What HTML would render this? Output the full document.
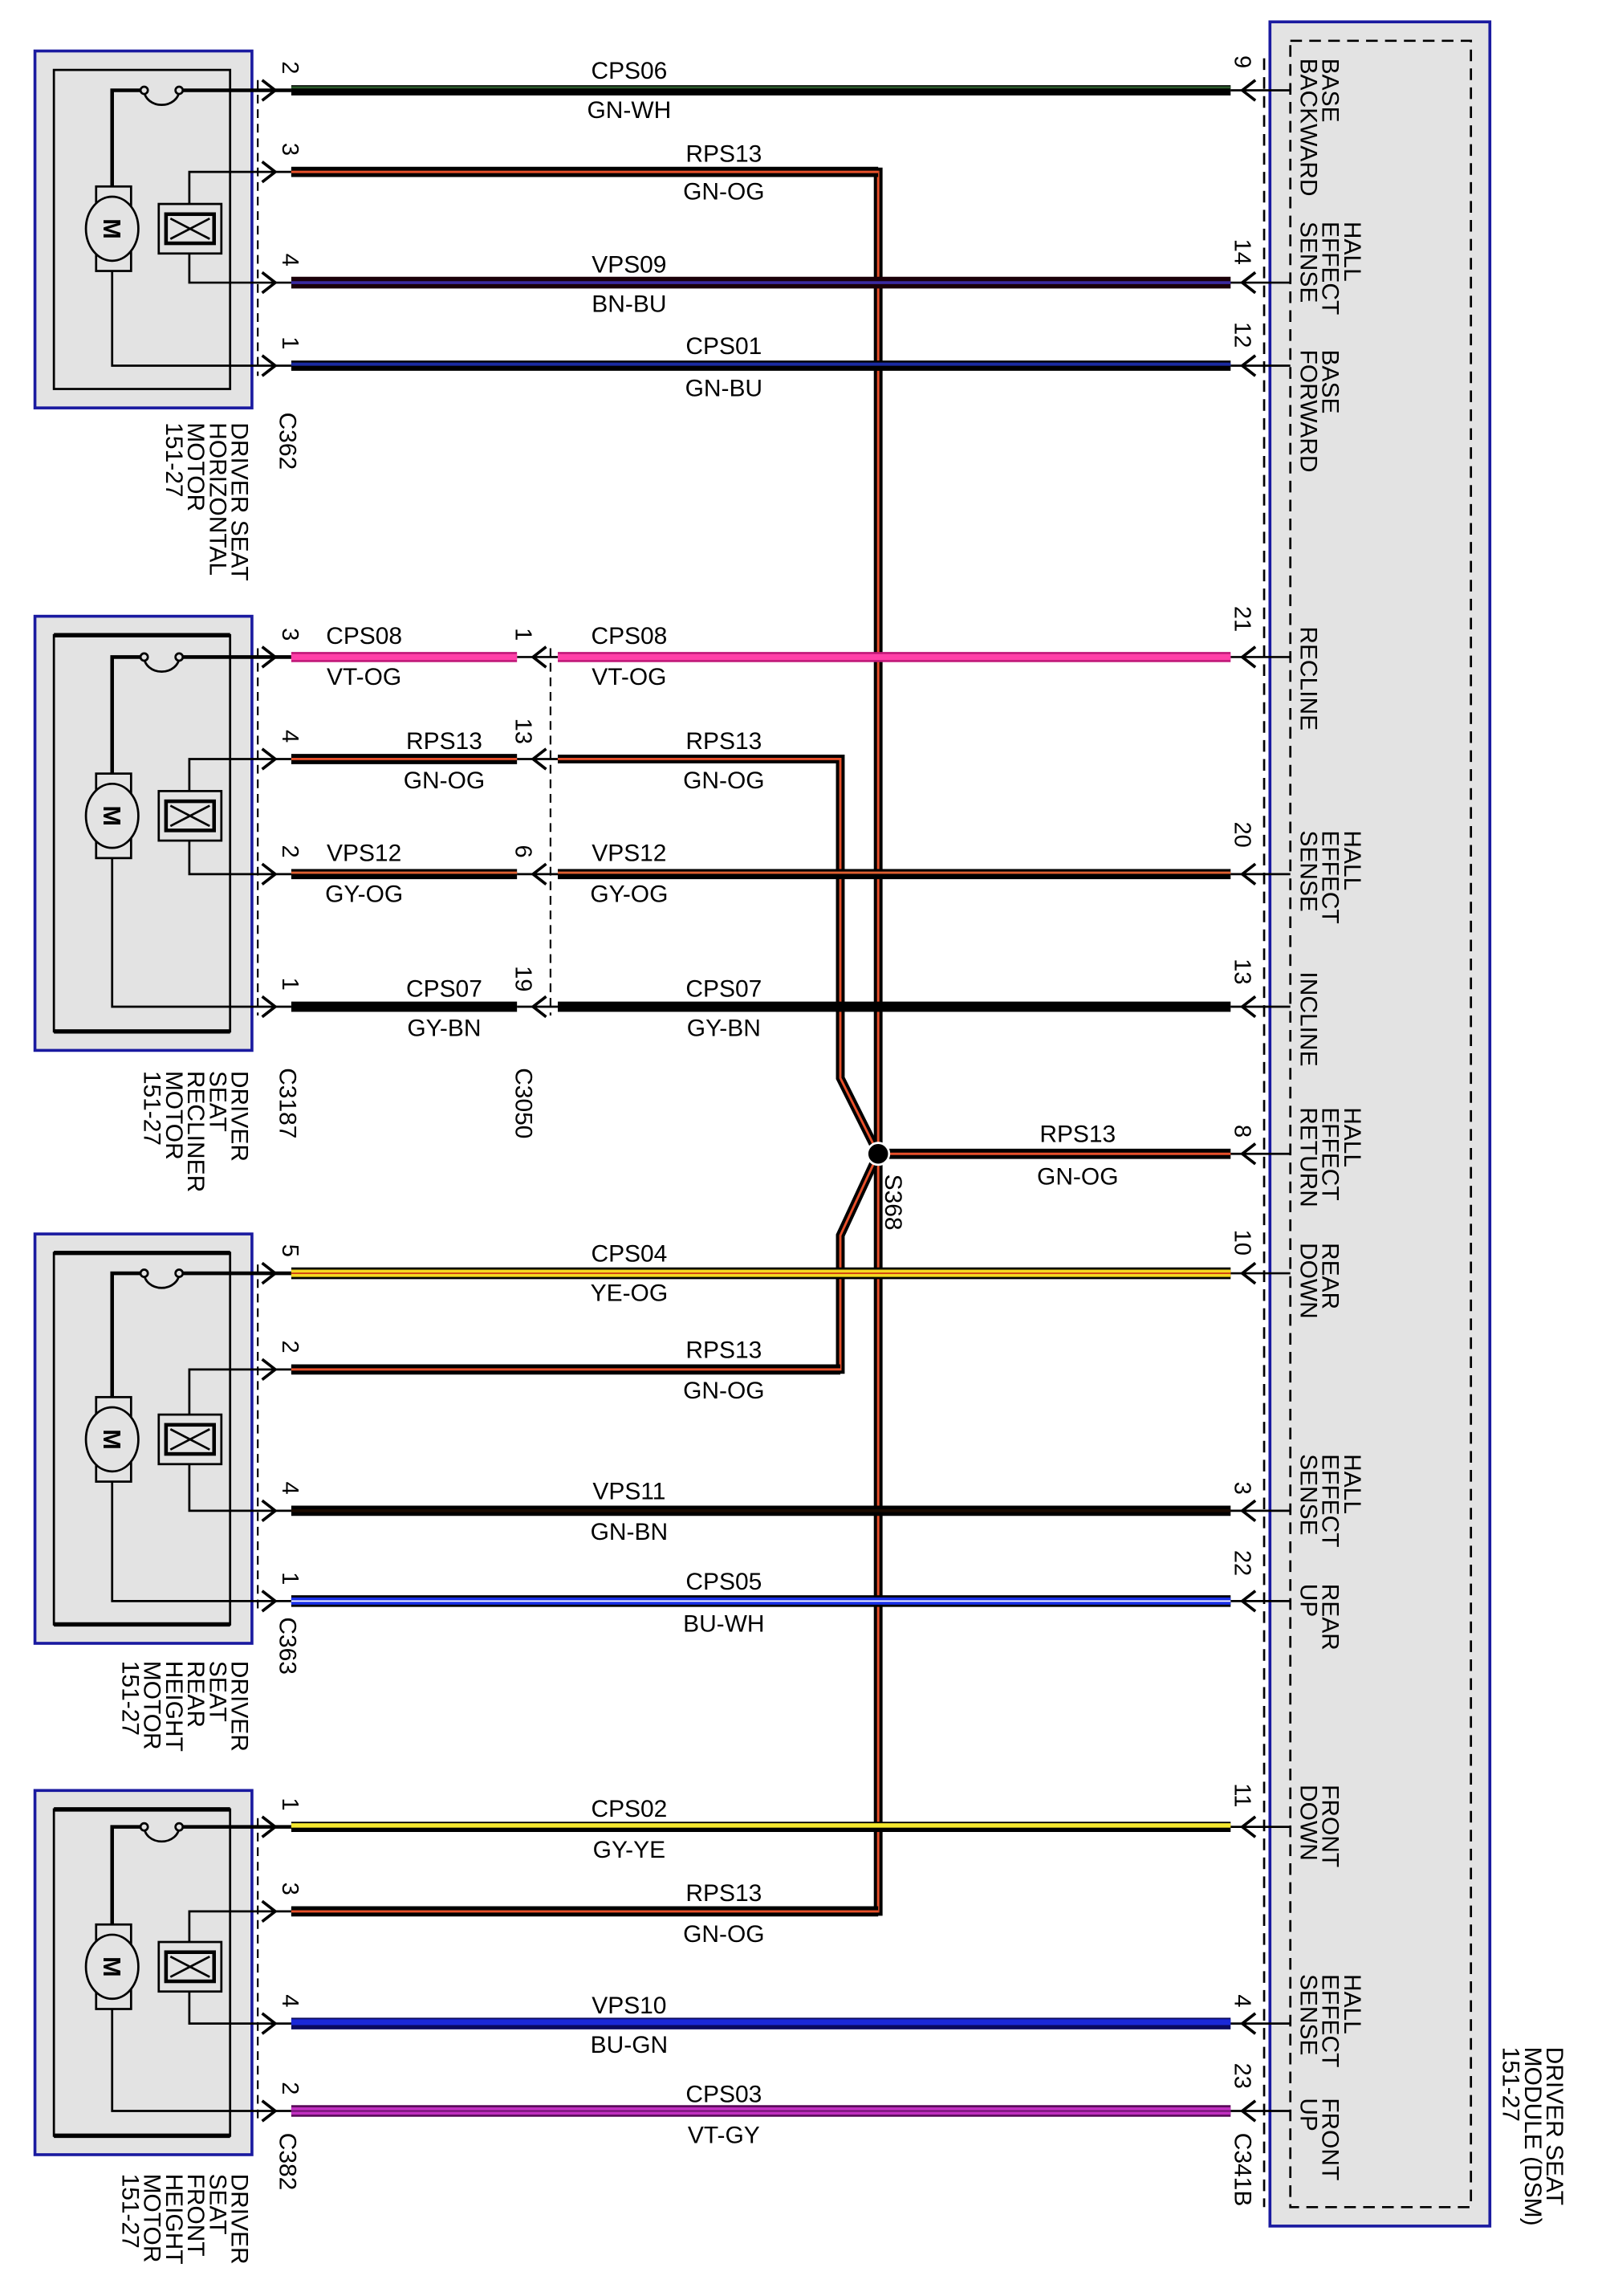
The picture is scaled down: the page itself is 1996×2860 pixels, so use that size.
<!DOCTYPE html>
<html><head><meta charset="utf-8"><style>
html,body{margin:0;padding:0;background:#fff}
svg{display:block}
text{font-family:"Liberation Sans",Arial,sans-serif;fill:#000}
.wl{font-size:16.5px;text-anchor:middle}
.pn{font-size:16px}
.ml{font-size:16.5px}
</style></head><body>
<svg width="1996" height="2860" viewBox="0 0 1100 1576" preserveAspectRatio="none" xmlns="http://www.w3.org/2000/svg">
<rect width="1100" height="1576" fill="#fff"/>
<rect x="872" y="15" width="151" height="1513" fill="#e3e3e3" stroke="#1a1aa0" stroke-width="2"/>
<rect x="886" y="28" width="124" height="1487" fill="none" stroke="#000" stroke-width="1.5" stroke-dasharray="8,5"/>
<line x1="868" y1="40" x2="868" y2="1515" stroke="#000" stroke-width="1.5" stroke-dasharray="8,5"/>
<g fill="#e3e3e3" stroke="#1a1aa0" stroke-width="2">
<rect x="24" y="35" width="149" height="245"/>
<rect x="24" y="423" width="149" height="298"/>
<rect x="24" y="847" width="149" height="281"/>
<rect x="24" y="1229" width="149" height="250"/>
</g>
<g fill="none" stroke="#000" stroke-width="1.5">
<rect x="37" y="48" width="121" height="219"/>
<rect x="37" y="436" width="121" height="272"/>
<rect x="37" y="860" width="121" height="255"/>
<rect x="37" y="1242" width="121" height="224"/>
</g>
<g stroke="#000" stroke-width="3">
<line x1="37" y1="436" x2="158" y2="436"/><line x1="37" y1="708" x2="158" y2="708"/>
<line x1="37" y1="860" x2="158" y2="860"/><line x1="37" y1="1115" x2="158" y2="1115"/>
<line x1="37" y1="1242" x2="158" y2="1242"/><line x1="37" y1="1466" x2="158" y2="1466"/>
</g>
<g stroke="#000" stroke-width="1.2" stroke-dasharray="6,4">
<line x1="177" y1="55" x2="177" y2="258"/>
<line x1="177" y1="445" x2="177" y2="697"/>
<line x1="177" y1="868" x2="177" y2="1105"/>
<line x1="177" y1="1248" x2="177" y2="1455"/>
<line x1="378" y1="445" x2="378" y2="697"/>
</g>
<g fill="none" stroke="#000" stroke-width="1.5">
<path d="M77,128 V62 H99 M123,62 H200" stroke-width="2.5"/>
<path d="M99,62 A12,10 0 0 0 123,62"/>
<circle cx="99" cy="62" r="2.5" fill="#e3e3e3"/><circle cx="123" cy="62" r="2.5" fill="#e3e3e3"/>
<rect x="66" y="128" width="24" height="58"/>
<ellipse cx="77" cy="157" rx="18" ry="22" fill="#e3e3e3"/>
<path d="M77,186 V251 H200"/>
<path d="M200,118 H130 V140 M130,174 V194 H200"/>
<rect x="109" y="140" width="43" height="34"/><rect x="114" y="147" width="33" height="20" stroke-width="2.5"/>
<path d="M117,150 L144,164 M117,164 L144,150"/>
<path d="M77,531 V451 H99 M123,451 H200" stroke-width="2.5"/>
<path d="M99,451 A12,10 0 0 0 123,451"/>
<circle cx="99" cy="451" r="2.5" fill="#e3e3e3"/><circle cx="123" cy="451" r="2.5" fill="#e3e3e3"/>
<rect x="66" y="531" width="24" height="58"/>
<ellipse cx="77" cy="560" rx="18" ry="22" fill="#e3e3e3"/>
<path d="M77,589 V691 H200"/>
<path d="M200,521 H130 V543 M130,577 V600 H200"/>
<rect x="109" y="543" width="43" height="34"/><rect x="114" y="550" width="33" height="20" stroke-width="2.5"/>
<path d="M117,553 L144,567 M117,567 L144,553"/>
<path d="M77,959 V874 H99 M123,874 H200" stroke-width="2.5"/>
<path d="M99,874 A12,10 0 0 0 123,874"/>
<circle cx="99" cy="874" r="2.5" fill="#e3e3e3"/><circle cx="123" cy="874" r="2.5" fill="#e3e3e3"/>
<rect x="66" y="959" width="24" height="58"/>
<ellipse cx="77" cy="988" rx="18" ry="22" fill="#e3e3e3"/>
<path d="M77,1017 V1099 H200"/>
<path d="M200,940 H130 V971 M130,1005 V1037 H200"/>
<rect x="109" y="971" width="43" height="34"/><rect x="114" y="978" width="33" height="20" stroke-width="2.5"/>
<path d="M117,981 L144,995 M117,995 L144,981"/>
<path d="M77,1321 V1254 H99 M123,1254 H200" stroke-width="2.5"/>
<path d="M99,1254 A12,10 0 0 0 123,1254"/>
<circle cx="99" cy="1254" r="2.5" fill="#e3e3e3"/><circle cx="123" cy="1254" r="2.5" fill="#e3e3e3"/>
<rect x="66" y="1321" width="24" height="58"/>
<ellipse cx="77" cy="1350" rx="18" ry="22" fill="#e3e3e3"/>
<path d="M77,1379 V1449 H200"/>
<path d="M200,1312 H130 V1333 M130,1367 V1389 H200"/>
<rect x="109" y="1333" width="43" height="34"/><rect x="114" y="1340" width="33" height="20" stroke-width="2.5"/>
<path d="M117,1343 L144,1357 M117,1357 L144,1343"/>
</g>
<g font-size="17" font-weight="bold">
<text transform="translate(71,157) rotate(90)" text-anchor="middle">M</text>
<text transform="translate(71,560) rotate(90)" text-anchor="middle">M</text>
<text transform="translate(71,988) rotate(90)" text-anchor="middle">M</text>
<text transform="translate(71,1350) rotate(90)" text-anchor="middle">M</text>
</g>
<g fill="none" stroke="#000" stroke-width="2">
<path d="M180,55 L189,62 L180,69 M180,111 L189,118 L180,125 M180,187 L189,194 L180,201 M180,244 L189,251 L180,258"/>
<path d="M180,444 L189,451 L180,458 M180,514 L189,521 L180,528 M180,593 L189,600 L180,607 M180,684 L189,691 L180,698"/>
<path d="M180,867 L189,874 L180,881 M180,933 L189,940 L180,947 M180,1030 L189,1037 L180,1044 M180,1092 L189,1099 L180,1106"/>
<path d="M180,1247 L189,1254 L180,1261 M180,1305 L189,1312 L180,1319 M180,1382 L189,1389 L180,1396 M180,1442 L189,1449 L180,1456"/>
<path d="M355,451 H383 M355,521 H383 M355,600 H383 M355,691 H383" stroke-width="1.5"/>
<path d="M375,444 L366,451 L375,458 M375,514 L366,521 L375,528 M375,593 L366,600 L375,607 M375,684 L366,691 L375,698"/>
<path d="M845,62 H886 M845,194 H886 M845,251 H886 M845,451 H886 M845,600 H886 M845,691 H886 M845,792 H886 M845,874 H886 M845,1037 H886 M845,1099 H886 M845,1254 H886 M845,1389 H886 M845,1449 H886" stroke-width="1.5"/>
<path d="M862,55 L853,62 L862,69 M862,187 L853,194 L862,201 M862,244 L853,251 L862,258 M862,444 L853,451 L862,458 M862,593 L853,600 L862,607 M862,684 L853,691 L862,698 M862,785 L853,792 L862,799 M862,867 L853,874 L862,881 M862,1030 L853,1037 L862,1044 M862,1092 L853,1099 L862,1106 M862,1247 L853,1254 L862,1261 M862,1382 L853,1389 L862,1396 M862,1442 L853,1449 L862,1456"/>
</g>
<g fill="none" stroke-linejoin="miter">
<polyline points="200,118 603,118 603,1312 200,1312" stroke="#000" stroke-width="6"/>
<polyline points="200,118 603,118 603,1312 200,1312" stroke="#e8502a" stroke-width="1.6"/>
<polyline points="383,521 577,521 577,740 603,792 577,848 577,940 200,940" stroke="#000" stroke-width="6"/>
<polyline points="383,521 577,521 577,740 603,792 577,848 577,940 200,940" stroke="#e8502a" stroke-width="1.6"/>
<line x1="200" y1="521" x2="355" y2="521" stroke="#000" stroke-width="7"/>
<line x1="200" y1="521" x2="355" y2="521" stroke="#e8502a" stroke-width="1.6"/>
<line x1="603" y1="792" x2="845" y2="792" stroke="#000" stroke-width="7"/>
<line x1="603" y1="792" x2="845" y2="792" stroke="#e8502a" stroke-width="1.6"/>
<line x1="200" y1="118" x2="603" y2="118" stroke="#000" stroke-width="7"/>
<line x1="200" y1="118" x2="603" y2="118" stroke="#e8502a" stroke-width="1.6"/>
<line x1="200" y1="1312" x2="603" y2="1312" stroke="#000" stroke-width="7"/>
<line x1="200" y1="1312" x2="603" y2="1312" stroke="#e8502a" stroke-width="1.6"/>
<line x1="200" y1="940" x2="577" y2="940" stroke="#000" stroke-width="7"/>
<line x1="200" y1="940" x2="577" y2="940" stroke="#e8502a" stroke-width="1.6"/>
<line x1="200" y1="62" x2="845" y2="62" stroke="#000" stroke-width="7"/>
<line x1="200" y1="60" x2="845" y2="60" stroke="#2b5a2b" stroke-width="1.5"/>
<line x1="200" y1="194" x2="845" y2="194" stroke="#1a0008" stroke-width="8"/>
<line x1="200" y1="194" x2="845" y2="194" stroke="#3a2aa0" stroke-width="2"/>
<line x1="200" y1="251" x2="845" y2="251" stroke="#000" stroke-width="7"/>
<line x1="200" y1="250" x2="845" y2="250" stroke="#1a2aa0" stroke-width="2.2"/>
<line x1="200" y1="451" x2="355" y2="451" stroke="#c01878" stroke-width="7"/>
<line x1="200" y1="451" x2="355" y2="451" stroke="#ff40a8" stroke-width="4"/>
<line x1="383" y1="451" x2="845" y2="451" stroke="#c01878" stroke-width="7"/>
<line x1="383" y1="451" x2="845" y2="451" stroke="#ff40a8" stroke-width="4"/>
<line x1="200" y1="600" x2="355" y2="600" stroke="#000" stroke-width="7"/>
<line x1="200" y1="599" x2="355" y2="599" stroke="#e06030" stroke-width="1.6"/>
<line x1="383" y1="600" x2="845" y2="600" stroke="#000" stroke-width="7"/>
<line x1="383" y1="599" x2="845" y2="599" stroke="#e06030" stroke-width="1.6"/>
<line x1="200" y1="691" x2="355" y2="691" stroke="#000" stroke-width="7"/>
<line x1="383" y1="691" x2="845" y2="691" stroke="#000" stroke-width="7"/>
<line x1="200" y1="874" x2="845" y2="874" stroke="#000" stroke-width="8"/>
<line x1="200" y1="874" x2="845" y2="874" stroke="#f5d820" stroke-width="5"/>
<line x1="200" y1="874" x2="845" y2="874" stroke="#d04010" stroke-width="1"/>
<line x1="200" y1="1037" x2="845" y2="1037" stroke="#000" stroke-width="7"/>
<line x1="200" y1="1037" x2="845" y2="1037" stroke="#1a0a00" stroke-width="2"/>
<line x1="200" y1="1099" x2="845" y2="1099" stroke="#000" stroke-width="8"/>
<line x1="200" y1="1099" x2="845" y2="1099" stroke="#1a30e8" stroke-width="5"/>
<line x1="200" y1="1099" x2="845" y2="1099" stroke="#fff" stroke-width="1"/>
<line x1="200" y1="1254" x2="845" y2="1254" stroke="#000" stroke-width="7"/>
<line x1="200" y1="1253" x2="845" y2="1253" stroke="#f5e830" stroke-width="3"/>
<line x1="200" y1="1389" x2="845" y2="1389" stroke="#0a0a60" stroke-width="8"/>
<line x1="200" y1="1388" x2="845" y2="1388" stroke="#1a28d8" stroke-width="4"/>
<line x1="200" y1="1449" x2="845" y2="1449" stroke="#5a0a5a" stroke-width="8"/>
<line x1="200" y1="1449" x2="845" y2="1449" stroke="#c030c0" stroke-width="5"/>
<line x1="200" y1="1449" x2="845" y2="1449" stroke="#6a106a" stroke-width="1"/>
</g>
<circle cx="603" cy="792" r="7.5" fill="#000" stroke="#fff" stroke-width="1.5"/>
<g class="wl">
<text x="432" y="54">CPS06</text><text x="432" y="81">GN-WH</text>
<text x="497" y="111">RPS13</text><text x="497" y="137">GN-OG</text>
<text x="432" y="187">VPS09</text><text x="432" y="214">BN-BU</text>
<text x="497" y="243">CPS01</text><text x="497" y="272">GN-BU</text>
<text x="250" y="442">CPS08</text><text x="250" y="470">VT-OG</text>
<text x="432" y="442">CPS08</text><text x="432" y="470">VT-OG</text>
<text x="305" y="514">RPS13</text><text x="305" y="541">GN-OG</text>
<text x="497" y="514">RPS13</text><text x="497" y="541">GN-OG</text>
<text x="250" y="591">VPS12</text><text x="250" y="619">GY-OG</text>
<text x="432" y="591">VPS12</text><text x="432" y="619">GY-OG</text>
<text x="305" y="684">CPS07</text><text x="305" y="711">GY-BN</text>
<text x="497" y="684">CPS07</text><text x="497" y="711">GY-BN</text>
<text x="740" y="784">RPS13</text><text x="740" y="813">GN-OG</text>
<text x="432" y="866">CPS04</text><text x="432" y="893">YE-OG</text>
<text x="497" y="932">RPS13</text><text x="497" y="960">GN-OG</text>
<text x="432" y="1029">VPS11</text><text x="432" y="1057">GN-BN</text>
<text x="497" y="1091">CPS05</text><text x="497" y="1120">BU-WH</text>
<text x="432" y="1247">CPS02</text><text x="432" y="1275">GY-YE</text>
<text x="497" y="1305">RPS13</text><text x="497" y="1333">GN-OG</text>
<text x="432" y="1382">VPS10</text><text x="432" y="1409">BU-GN</text>
<text x="497" y="1443">CPS03</text><text x="497" y="1471">VT-GY</text>
</g>
<g class="pn">
<text transform="translate(194,42) rotate(90)">2</text>
<text transform="translate(194,98) rotate(90)">3</text>
<text transform="translate(194,174) rotate(90)">4</text>
<text transform="translate(194,231) rotate(90)">1</text>
<text transform="translate(194,431) rotate(90)">3</text>
<text transform="translate(194,501) rotate(90)">4</text>
<text transform="translate(194,580) rotate(90)">2</text>
<text transform="translate(194,671) rotate(90)">1</text>
<text transform="translate(194,854) rotate(90)">5</text>
<text transform="translate(194,920) rotate(90)">2</text>
<text transform="translate(194,1017) rotate(90)">4</text>
<text transform="translate(194,1079) rotate(90)">1</text>
<text transform="translate(194,1234) rotate(90)">1</text>
<text transform="translate(194,1292) rotate(90)">3</text>
<text transform="translate(194,1369) rotate(90)">4</text>
<text transform="translate(194,1429) rotate(90)">2</text>
<text transform="translate(354,431) rotate(90)">1</text>
<text transform="translate(354,493) rotate(90)">13</text>
<text transform="translate(354,580) rotate(90)">6</text>
<text transform="translate(354,663) rotate(90)">19</text>
<text transform="translate(848,38) rotate(90)">9</text>
<text transform="translate(848,164) rotate(90)">14</text>
<text transform="translate(848,221) rotate(90)">12</text>
<text transform="translate(848,416) rotate(90)">21</text>
<text transform="translate(848,564) rotate(90)">20</text>
<text transform="translate(848,658) rotate(90)">13</text>
<text transform="translate(848,772) rotate(90)">8</text>
<text transform="translate(848,844) rotate(90)">10</text>
<text transform="translate(848,1017) rotate(90)">3</text>
<text transform="translate(848,1064) rotate(90)">22</text>
<text transform="translate(848,1224) rotate(90)">11</text>
<text transform="translate(848,1369) rotate(90)">4</text>
<text transform="translate(848,1416) rotate(90)">23</text>
</g>
<g class="ml">
<text transform="translate(192,283) rotate(90)">C362</text>
<text transform="translate(192,733) rotate(90)">C3187</text>
<text transform="translate(354,733) rotate(90)">C3050</text>
<text transform="translate(192,1110) rotate(90)">C363</text>
<text transform="translate(192,1464) rotate(90)">C382</text>
<text transform="translate(848,1464) rotate(90)">C341B</text>
<text transform="translate(608,806) rotate(90)">S368</text>
</g>
<g class="ml">
<text transform="translate(159,290) rotate(90)"><tspan x="0">DRIVER SEAT</tspan><tspan x="0" dy="15">HORIZONTAL</tspan><tspan x="0" dy="15">MOTOR</tspan><tspan x="0" dy="15">151-27</tspan></text>
<text transform="translate(159,735) rotate(90)"><tspan x="0">DRIVER</tspan><tspan x="0" dy="15">SEAT</tspan><tspan x="0" dy="15">RECLINER</tspan><tspan x="0" dy="15">MOTOR</tspan><tspan x="0" dy="15">151-27</tspan></text>
<text transform="translate(159,1140) rotate(90)"><tspan x="0">DRIVER</tspan><tspan x="0" dy="15">SEAT</tspan><tspan x="0" dy="15">REAR</tspan><tspan x="0" dy="15">HEIGHT</tspan><tspan x="0" dy="15">MOTOR</tspan><tspan x="0" dy="15">151-27</tspan></text>
<text transform="translate(159,1492) rotate(90)"><tspan x="0">DRIVER</tspan><tspan x="0" dy="15">SEAT</tspan><tspan x="0" dy="15">FRONT</tspan><tspan x="0" dy="15">HEIGHT</tspan><tspan x="0" dy="15">MOTOR</tspan><tspan x="0" dy="15">151-27</tspan></text>
<text transform="translate(1062,1405) rotate(90)"><tspan x="0">DRIVER SEAT</tspan><tspan x="0" dy="15">MODULE (DSM)</tspan><tspan x="0" dy="15">151-27</tspan></text>
</g>
<g class="ml">
<text transform="translate(908,40) rotate(90)"><tspan x="0">BASE</tspan><tspan x="0" dy="15">BACKWARD</tspan></text>
<text transform="translate(923,152) rotate(90)"><tspan x="0">HALL</tspan><tspan x="0" dy="15">EFFECT</tspan><tspan x="0" dy="15">SENSE</tspan></text>
<text transform="translate(908,240) rotate(90)"><tspan x="0">BASE</tspan><tspan x="0" dy="15">FORWARD</tspan></text>
<text transform="translate(893,430) rotate(90)">RECLINE</text>
<text transform="translate(923,570) rotate(90)"><tspan x="0">HALL</tspan><tspan x="0" dy="15">EFFECT</tspan><tspan x="0" dy="15">SENSE</tspan></text>
<text transform="translate(893,667) rotate(90)">INCLINE</text>
<text transform="translate(923,760) rotate(90)"><tspan x="0">HALL</tspan><tspan x="0" dy="15">EFFECT</tspan><tspan x="0" dy="15">RETURN</tspan></text>
<text transform="translate(908,853) rotate(90)"><tspan x="0">REAR</tspan><tspan x="0" dy="15">DOWN</tspan></text>
<text transform="translate(923,998) rotate(90)"><tspan x="0">HALL</tspan><tspan x="0" dy="15">EFFECT</tspan><tspan x="0" dy="15">SENSE</tspan></text>
<text transform="translate(908,1087) rotate(90)"><tspan x="0">REAR</tspan><tspan x="0" dy="15">UP</tspan></text>
<text transform="translate(908,1225) rotate(90)"><tspan x="0">FRONT</tspan><tspan x="0" dy="15">DOWN</tspan></text>
<text transform="translate(923,1355) rotate(90)"><tspan x="0">HALL</tspan><tspan x="0" dy="15">EFFECT</tspan><tspan x="0" dy="15">SENSE</tspan></text>
<text transform="translate(908,1440) rotate(90)"><tspan x="0">FRONT</tspan><tspan x="0" dy="15">UP</tspan></text>
</g>
</svg>
</body></html>
